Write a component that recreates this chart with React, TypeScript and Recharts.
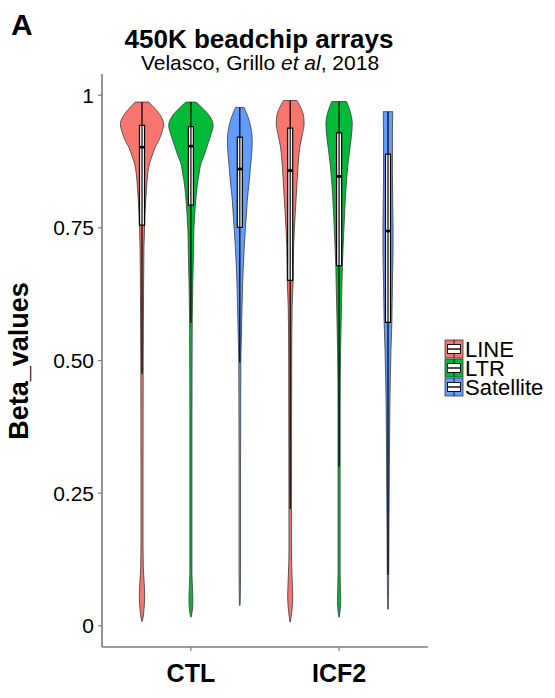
import { ComposedChart, Area, XAxis, YAxis, ReferenceArea, ReferenceLine } from 'recharts'

const FONT = '"Liberation Sans", Arial, Helvetica, sans-serif'
const AXIS_GREY = '#7b7b7b'
const OUTLINE = '#3a3a3a'

// x categories and fill groups
const groups = ['CTL', 'ICF2']
const groupPos = [1, 2]
const repeatTypes = ['LINE', 'LTR', 'Satellite']
const typeColors = ['#F8766D', '#00BA38', '#619CFF']
const dodge = [-0.33, 0, 0.33]

const yTicks = [0, 0.25, 0.5, 0.75, 1]
const yTickLabels = ['0', '0.25', '0.50', '0.75', '1']

// violin outlines: beta value -> half width (x axis units)
const ctlLineBeta = [0.987, 0.975, 0.96, 0.946, 0.93, 0.915, 0.902, 0.885, 0.871, 0.855, 0.839, 0.81, 0.777, 0.745, 0.713, 0.65, 0.5, 0.3, 0.15, 0.11, 0.08, 0.054, 0.03, 0.015, 0.008]
const ctlLineHalf = [0.045, 0.087, 0.128, 0.146, 0.134, 0.114, 0.089, 0.067, 0.05, 0.04, 0.034, 0.027, 0.02, 0.017, 0.013, 0.011, 0.008, 0.007, 0.007, 0.009, 0.015, 0.018, 0.013, 0.007, 0.001]

const ctlLtrBeta = [0.987, 0.975, 0.96, 0.943, 0.925, 0.902, 0.885, 0.871, 0.855, 0.839, 0.815, 0.792, 0.745, 0.7, 0.65, 0.58, 0.4, 0.2, 0.1, 0.07, 0.048, 0.03, 0.016]
const ctlLtrHalf = [0.034, 0.081, 0.128, 0.15, 0.134, 0.107, 0.087, 0.067, 0.057, 0.047, 0.037, 0.03, 0.02, 0.017, 0.013, 0.009, 0.007, 0.007, 0.007, 0.011, 0.013, 0.01, 0.001]

const ctlSatBeta = [0.977, 0.96, 0.94, 0.915, 0.89, 0.871, 0.839, 0.8, 0.777, 0.745, 0.713, 0.68, 0.645, 0.6, 0.55, 0.5, 0.3, 0.1, 0.038]
const ctlSatHalf = [0.028, 0.054, 0.074, 0.084, 0.08, 0.074, 0.064, 0.05, 0.045, 0.037, 0.03, 0.024, 0.019, 0.015, 0.011, 0.007, 0.005, 0.005, 0.002]

const icfLineBeta = [0.99, 0.975, 0.96, 0.946, 0.925, 0.902, 0.87, 0.839, 0.777, 0.713, 0.651, 0.6, 0.5, 0.3, 0.15, 0.123, 0.09, 0.054, 0.03, 0.007]
const icfLineHalf = [0.045, 0.074, 0.091, 0.094, 0.081, 0.065, 0.054, 0.047, 0.034, 0.023, 0.02, 0.013, 0.01, 0.009, 0.008, 0.009, 0.013, 0.017, 0.012, 0.001]

const icfLtrBeta = [0.988, 0.97, 0.946, 0.925, 0.902, 0.87, 0.839, 0.777, 0.713, 0.675, 0.613, 0.519, 0.4, 0.2, 0.1, 0.07, 0.048, 0.03, 0.016]
const icfLtrHalf = [0.05, 0.074, 0.089, 0.084, 0.074, 0.06, 0.05, 0.037, 0.027, 0.022, 0.017, 0.01, 0.007, 0.007, 0.007, 0.009, 0.011, 0.008, 0.001]

const icfSatBeta = [0.969, 0.93, 0.85, 0.75, 0.707, 0.65, 0.572, 0.52, 0.42, 0.33, 0.2, 0.1, 0.031]
const icfSatHalf = [0.032, 0.03, 0.03, 0.034, 0.034, 0.03, 0.026, 0.02, 0.013, 0.01, 0.007, 0.005, 0.002]

// boxplot stats, order: CTL LINE, CTL LTR, CTL Sat, ICF2 LINE, ICF2 LTR, ICF2 Sat
const q1s = [0.755, 0.793, 0.751, 0.651, 0.679, 0.572]
const medians = [0.902, 0.904, 0.861, 0.858, 0.847, 0.744]
const q3s = [0.943, 0.941, 0.921, 0.938, 0.929, 0.889]
const whiskerLows = [0.475, 0.571, 0.496, 0.22, 0.3, 0.096]
const whiskerHighs = [0.987, 0.987, 0.977, 0.99, 0.988, 0.969]
const boxHalf = 0.017

const violins = [
  { g: 0, t: 0, beta: ctlLineBeta, half: ctlLineHalf },
  { g: 0, t: 1, beta: ctlLtrBeta, half: ctlLtrHalf },
  { g: 0, t: 2, beta: ctlSatBeta, half: ctlSatHalf },
  { g: 1, t: 0, beta: icfLineBeta, half: icfLineHalf },
  { g: 1, t: 1, beta: icfLtrBeta, half: icfLtrHalf },
  { g: 1, t: 2, beta: icfSatBeta, half: icfSatHalf },
].map((v) => {
  const c = groupPos[v.g] + dodge[v.t]
  return {
    ...v,
    c,
    data: v.beta.map((b, k) => ({ y: b, span: [c - v.half[k], c + v.half[k]] })),
  }
})

function LegendKey({ x, y, color }: { x: number; y: number; color: string }) {
  return (
    <g>
      <rect x={x} y={y} width={18} height={18} fill={color} stroke={OUTLINE} strokeWidth={0.8} />
      <line x1={x + 9} x2={x + 9} y1={y} y2={y + 18} stroke="#000" strokeWidth={0.8} />
      <rect x={x + 2.5} y={y + 4.5} width={13} height={9} fill="#fff" stroke="#000" strokeWidth={0.9} />
      <line x1={x + 2.5} x2={x + 15.5} y1={y + 9} y2={y + 9} stroke="#000" strokeWidth={1.4} />
    </g>
  )
}

export default function App() {
  return (
    <div style={{ position: 'absolute', left: 0, top: 0, width: 555, height: 698, background: '#fff' }}>
      <ComposedChart
        layout="vertical"
        width={555}
        height={698}
        margin={{ top: 74, right: 127, bottom: 11, left: 40 }}
        style={{ position: 'absolute', left: 0, top: 0 }}
      >
        <XAxis
          type="number"
          domain={[0.4, 2.6]}
          allowDataOverflow
          ticks={groupPos}
          tickFormatter={(v: number) => groups[groupPos.indexOf(v)]}
          height={40}
          axisLine={{ stroke: AXIS_GREY, strokeWidth: 1.6 }}
          tickLine={{ stroke: AXIS_GREY, strokeWidth: 1.2 }}
          tickSize={4}
          tickMargin={13}
          tick={{ fill: '#000', fontSize: 25, fontWeight: 'bold', fontFamily: FONT }}
        />
        <YAxis
          type="number"
          dataKey="y"
          reversed
          domain={[-0.04, 1.04]}
          allowDataOverflow
          ticks={yTicks}
          tickFormatter={(v: number) => yTickLabels[yTicks.indexOf(v)]}
          width={62}
          axisLine={{ stroke: AXIS_GREY, strokeWidth: 1.6 }}
          tickLine={{ stroke: AXIS_GREY, strokeWidth: 1.2 }}
          tickSize={4}
          tickMargin={4}
          tick={{ fill: '#000', fontSize: 21, fontFamily: FONT }}
        />

        {/* violins */}
        {violins.map((v, i) => (
          <Area
            key={`v${i}`}
            data={v.data}
            dataKey="span"
            type="monotone"
            fill={typeColors[v.t]}
            fillOpacity={1}
            stroke={OUTLINE}
            strokeWidth={0.8}
            dot={false}
            activeDot={false}
            isAnimationActive={false}
          />
        ))}

        {/* flat trimmed tops */}
        {violins.map((v, i) => (
          <ReferenceLine
            key={`cap${i}`}
            segment={[
              { x: v.c - v.half[0], y: v.beta[0] },
              { x: v.c + v.half[0], y: v.beta[0] },
            ]}
            stroke={OUTLINE}
            strokeWidth={0.8}
          />
        ))}

        {/* whiskers */}
        {violins.map((v, i) => (
          <ReferenceLine
            key={`w${i}`}
            segment={[
              { x: v.c, y: whiskerLows[i] },
              { x: v.c, y: whiskerHighs[i] },
            ]}
            stroke="#000"
            strokeWidth={1.2}
          />
        ))}

        {/* boxes */}
        {violins.map((v, i) => (
          <ReferenceArea
            key={`b${i}`}
            x1={v.c - boxHalf}
            x2={v.c + boxHalf}
            y1={q1s[i]}
            y2={q3s[i]}
            fill="#fff"
            fillOpacity={1}
            stroke="#000"
            strokeWidth={1.2}
          />
        ))}

        {/* medians */}
        {violins.map((v, i) => (
          <ReferenceLine
            key={`m${i}`}
            segment={[
              { x: v.c - boxHalf, y: medians[i] },
              { x: v.c + boxHalf, y: medians[i] },
            ]}
            stroke="#000"
            strokeWidth={2.6}
          />
        ))}
      </ComposedChart>

      <svg
        width={555}
        height={698}
        style={{ position: 'absolute', left: 0, top: 0, pointerEvents: 'none' }}
        fontFamily={FONT}
      >
        <text x={11} y={35} fontSize={30} fontWeight="bold" fill="#000">A</text>
        <text x={259} y={48} fontSize={26} fontWeight="bold" textAnchor="middle" fill="#000">
          450K beadchip arrays
        </text>
        <text x={260} y={70} fontSize={21} textAnchor="middle" fill="#000">
          Velasco, Grillo <tspan fontStyle="italic">et al</tspan>, 2018
        </text>
        <text
          x={0}
          y={0}
          transform="translate(28 361) rotate(-90)"
          fontSize={27}
          fontWeight="bold"
          textAnchor="middle"
          fill="#000"
        >
          Beta_values
        </text>

        {repeatTypes.map((name, k) => (
          <g key={name}>
            <LegendKey x={445} y={340 + k * 19} color={typeColors[k]} />
            <text x={465} y={356.7 + k * 19} fontSize={22} fill="#000">
              {name}
            </text>
          </g>
        ))}
      </svg>
    </div>
  )
}
